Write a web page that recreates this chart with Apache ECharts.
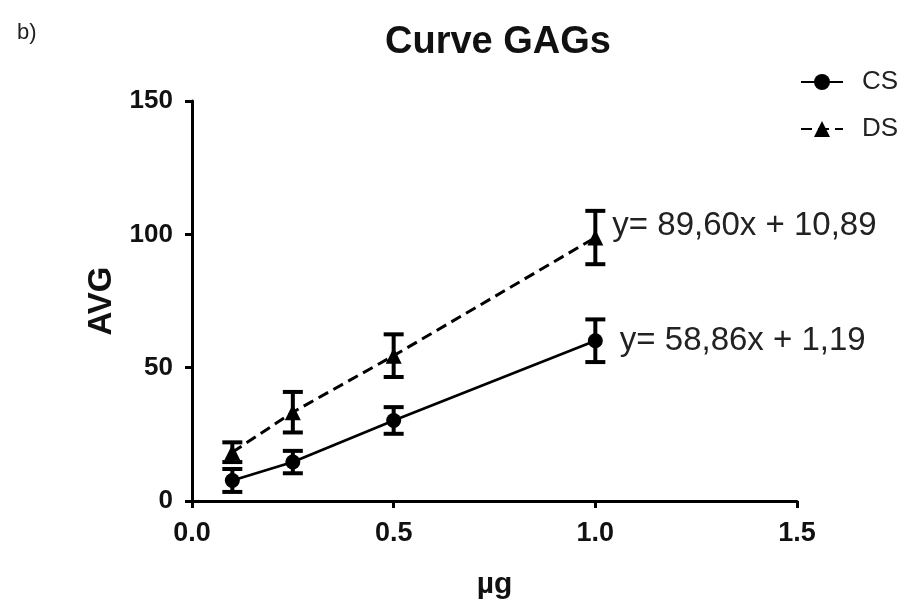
<!DOCTYPE html>
<html>
<head>
<meta charset="utf-8">
<script src="https://cdn.jsdelivr.net/npm/echarts@6/dist/echarts.min.js"></script>
<style>
  html, body { margin: 0; padding: 0; background: #fff; }
  #chart { width: 917px; height: 606px; }
</style>
</head>
<body>
<div id="chart"></div>
<script>
// data
const doses = [0.1, 0.25, 0.5, 1.0];
const csMean = [7.7, 14.6, 30.2, 60.1];
const csErr = [4.3, 4.2, 5.0, 8.0];
const dsMean = [18.3, 33.3, 54.5, 98.8];
const dsErr = [3.7, 7.6, 8.0, 10.0];
const seriesNames = ['CS', 'DS'];
const equations = ['y= 58,86x + 1,19', 'y= 89,60x + 10,89'];
const yTicks = [0, 50, 100, 150];

const font = 'Liberation Sans, Arial, sans-serif';
const chart = echarts.init(document.getElementById('chart'));

function pointsWithLabel(means, eq, offset) {
  return means.map((v, i) => {
    const item = { value: [doses[i], v] };
    if (i === means.length - 1) {
      item.label = {
        show: true, position: 'right', distance: 18, offset: offset,
        formatter: eq, fontFamily: font, fontSize: 33, color: '#222'
      };
    }
    return item;
  });
}

function errorBars(name, means, errs) {
  return {
    name: name,
    type: 'custom',
    z: 5,
    silent: true,
    data: means.map((v, i) => [doses[i], v - errs[i], v + errs[i]]),
    renderItem: (params, api) => {
      const lo = api.coord([api.value(0), api.value(1)]);
      const hi = api.coord([api.value(0), api.value(2)]);
      const w = 10;
      const style = { stroke: '#000', lineWidth: 4 };
      return {
        type: 'group',
        children: [
          { type: 'line', shape: { x1: lo[0], y1: lo[1], x2: hi[0], y2: hi[1] }, style },
          { type: 'line', shape: { x1: lo[0] - w, y1: lo[1], x2: lo[0] + w, y2: lo[1] }, style },
          { type: 'line', shape: { x1: hi[0] - w, y1: hi[1], x2: hi[0] + w, y2: hi[1] }, style }
        ]
      };
    }
  };
}

chart.setOption({
  backgroundColor: '#fff',
  animation: false,
  title: [
    {
      text: 'Curve GAGs', left: 493, top: 19, textAlign: 'center',
      textStyle: { fontFamily: font, fontSize: 38, fontWeight: 'bold', color: '#111' }
    },
    {
      text: 'b)', left: 12, top: 17,
      textStyle: { fontFamily: font, fontSize: 22, fontWeight: 'normal', color: '#222' }
    }
  ],
  legend: {
    orient: 'vertical', left: 795, top: 64, itemGap: 21,
    itemWidth: 42, itemHeight: 20,
    data: seriesNames,
    textStyle: { fontFamily: font, fontSize: 26, color: '#222', padding: [0, 0, 0, 14] }
  },
  grid: { left: 192, right: 120, top: 101, bottom: 105 },
  xAxis: {
    type: 'value', min: 0, max: 1.5, interval: 0.5,
    name: 'µg', nameLocation: 'middle', nameGap: 69,
    nameTextStyle: { fontFamily: font, fontSize: 30, fontWeight: 'bold', color: '#111' },
    axisLine: { lineStyle: { color: '#000', width: 3 } },
    axisTick: { show: true, length: 7, lineStyle: { color: '#000', width: 3 } },
    axisLabel: {
      margin: 19, formatter: v => v.toFixed(1),
      fontFamily: font, fontSize: 27, fontWeight: 'bold', color: '#111'
    },
    splitLine: { show: false }
  },
  yAxis: {
    type: 'value', min: 0, max: 150, interval: 50,
    name: 'AVG', nameLocation: 'middle', nameGap: 73,
    nameTextStyle: { fontFamily: font, fontSize: 33, fontWeight: 'bold', color: '#111' },
    axisLine: { show: true, lineStyle: { color: '#000', width: 3 } },
    axisTick: { show: true, length: 7, lineStyle: { color: '#000', width: 3 } },
    axisLabel: {
      margin: 19, customValues: yTicks,
      fontFamily: font, fontSize: 26, fontWeight: 'bold', color: '#111'
    },
    splitLine: { show: false }
  },
  series: [
    {
      name: seriesNames[0], type: 'line',
      data: pointsWithLabel(csMean, equations[0], [-1, 0]),
      symbol: 'circle', symbolSize: 15,
      itemStyle: { color: '#000' },
      lineStyle: { color: '#000', width: 2.7 },
      z: 4
    },
    {
      name: seriesNames[1], type: 'line',
      data: pointsWithLabel(dsMean, equations[1], [-9, -12]),
      symbol: 'triangle', symbolSize: 16,
      itemStyle: { color: '#000' },
      lineStyle: { color: '#000', width: 3, type: [11, 6] },
      z: 4
    },
    errorBars('csErr', csMean, csErr),
    errorBars('dsErr', dsMean, dsErr)
  ]
});
</script>
</body>
</html>
